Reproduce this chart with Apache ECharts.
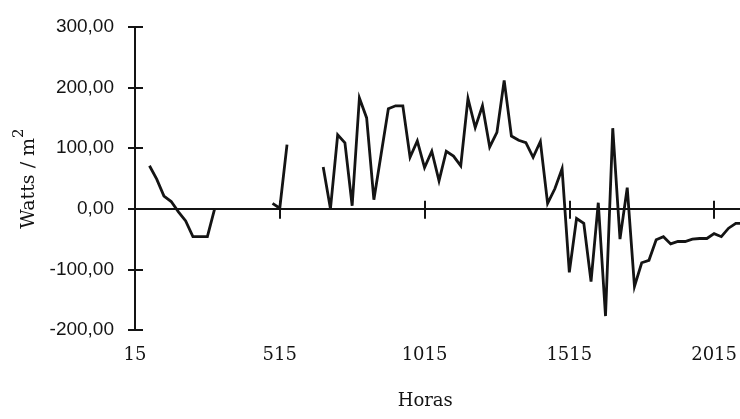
<!DOCTYPE html>
<html><head><meta charset="utf-8">
<script src="https://cdn.jsdelivr.net/npm/echarts@6/dist/echarts.min.js"></script>
<style>html,body{margin:0;padding:0;background:#fff}#c{width:740px;height:419px}</style>
</head><body><div id="c"></div>
<script>
// Time in hours (15 = 00:15, 515 = 05:15 ...), gaps marked with null
const hours = [0.75,1.0,1.25,1.5,1.75,2.0,2.25,2.5,2.75,3.0, 4.0,
  5.0,5.25,5.5, 6.0,
  6.75,7.0,7.25,7.5,7.75,8.0,8.25,8.5,8.75,9.0,9.25,9.5,9.75,10.0,
  10.25,10.5,10.75,11.0,11.25,11.5,11.75,12.0,12.25,12.5,12.75,13.0,13.25,13.5,13.75,14.0,14.25,14.5,14.75,15.0,
  15.25,15.5,15.75,16.0,16.25,16.5,16.75,17.0,17.25,17.5,17.75,18.0,18.25,18.5,18.75,19.0,19.25,19.5,19.75,20.0,
  20.25,20.5,20.75,21.0,21.25];
const watts = [71,49,21,12,-5,-20,-46,-46,-46,0, null,
  9,1,106, null,
  69,0,122,109,5,183,150,15,90,165,170,170,85,112,
  68,95,46,95,87,71,182,134,170,102,126,212,120,113,109,85,111,9,33,66,
  -105,-16,-24,-120,10,-177,133,-50,35,-128,-89,-85,-51,-46,-58,-54,-54,-50,-49,-49,
  -41,-46,-32,-24,-24];
const xTickHours = [0.25, 5.25, 10.25, 15.25, 20.25];
const xTickLabels = ['15', '515', '1015', '1515', '2015'];
const yMin = -200, yMax = 300, yStep = 100;
const xMin = 0.25, xMax = 21.13;

const ink = '#141414';
const chart = echarts.init(document.getElementById('c'), null, {renderer: 'canvas'});
const seriesData = hours.map((h, i) => [h, watts[i] === null ? '-' : watts[i]]);

chart.setOption({
  backgroundColor: '#ffffff',
  animation: false,
  grid: {left: 135, right: 0, top: 27, bottom: 89, containLabel: false},
  xAxis: [
    {
      type: 'value', min: xMin, max: xMax, position: 'bottom',
      axisLine: {show: true, onZero: true, lineStyle: {color: ink, width: 2}},
      axisTick: {show: true, customValues: xTickHours.slice(1), length: 10, lineStyle: {color: ink, width: 2}},
      axisLabel: {show: false}, splitLine: {show: false}
    },
    {
      type: 'value', min: xMin, max: xMax, position: 'bottom',
      axisLine: {show: false, onZero: false}, axisTick: {show: false}, splitLine: {show: false},
      axisLabel: {
        show: true, customValues: xTickHours, margin: 16,
        fontFamily: 'DejaVu Serif', fontSize: 18, color: ink,
        formatter: v => { const i = xTickHours.indexOf(v); return i >= 0 ? xTickLabels[i] : ''; }
      },
      name: 'Horas', nameLocation: 'middle', nameGap: 62,
      nameTextStyle: {fontFamily: 'DejaVu Serif', fontSize: 18, color: ink, padding: [0, 24, 0, 0]}
    },
    {
      type: 'value', min: xMin, max: xMax, position: 'bottom',
      axisLine: {show: false, onZero: true},
      axisTick: {show: true, inside: true, customValues: xTickHours.slice(1), length: 8, lineStyle: {color: ink, width: 2}},
      axisLabel: {show: false}, splitLine: {show: false}
    }
  ],
  yAxis: [
    {
      type: 'value', min: yMin, max: yMax, interval: yStep, position: 'left',
      axisLine: {show: true, onZero: false, lineStyle: {color: ink, width: 2}},
      axisTick: {show: true, length: 7, lineStyle: {color: ink, width: 2}},
      splitLine: {show: false},
      axisLabel: {
        margin: 21, fontFamily: 'Liberation Sans', fontSize: 19, color: ink,
        formatter: v => v.toFixed(2).replace('.', ',')
      },
      name: '{a|Watts / m}{b|2}', nameLocation: 'middle', nameGap: 92,
      nameTextStyle: {
        rich: {
          a: {fontFamily: 'DejaVu Serif', fontSize: 19, color: ink, lineHeight: 27, verticalAlign: 'bottom'},
          b: {fontFamily: 'DejaVu Serif', fontSize: 15, color: ink, verticalAlign: 'top', lineHeight: 27}
        }
      }
    },
    {
      type: 'value', min: yMin, max: yMax, interval: yStep, position: 'left',
      axisLine: {show: false, onZero: false},
      axisTick: {show: true, inside: true, length: 8, lineStyle: {color: ink, width: 2}},
      axisLabel: {show: false}, splitLine: {show: false}
    }
  ],
  series: [{
    type: 'line', xAxisIndex: 0, yAxisIndex: 0,
    data: seriesData, showSymbol: false, symbol: 'none', connectNulls: false,
    lineStyle: {color: ink, width: 2.8, join: 'miter', miterLimit: 6},
    z: 5
  }]
});
</script>
</body></html>
